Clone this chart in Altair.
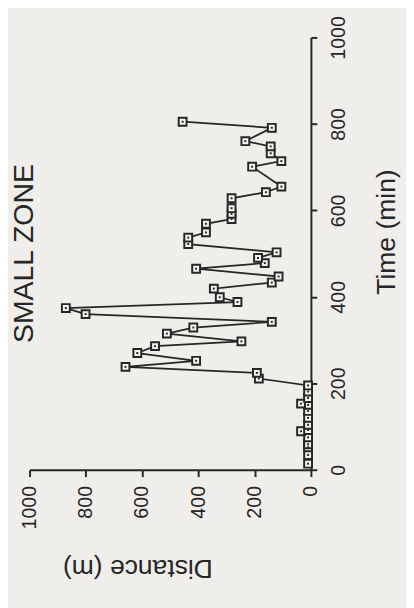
import altair as alt
import pandas as pd

# Time (min) and distance (m)
time_min = [14, 34, 52, 59, 75, 89, 92, 104, 120, 136, 150, 153, 166, 181, 195,
            211, 224, 238, 252, 270, 286, 297, 315, 329, 342, 360, 374, 388, 399,
            419, 433, 447, 465, 478, 490, 503, 522, 537, 549, 569, 580, 592, 605,
            628, 642, 655, 701, 714, 732, 748, 760, 791, 805]
distance_m = [10, 10, 10, 10, 10, 35, 10, 10, 10, 10, 10, 35, 10, 10, 10,
              185, 192, 659, 408, 617, 554, 247, 512, 418, 139, 801, 871, 261, 324,
              345, 139, 115, 408, 164, 188, 122, 436, 436, 373, 373, 282, 282, 282,
              282, 160, 105, 209, 105, 143, 143, 233, 139, 456]
tick_values = [0, 200, 400, 600, 800, 1000]

df = pd.DataFrame({"time": time_min, "distance": distance_m})

INK = "#262626"
PAPER = "#efeeea"
FONT = "Liberation Sans"

x_enc = alt.X(
    "distance:Q",
    scale=alt.Scale(domain=[0, 1000], reverse=True, nice=False),
    axis=alt.Axis(
        orient="bottom", values=tick_values, format="d", grid=False,
        labelAngle=270, labelAlign="right", labelBaseline="middle",
        labelPadding=9, tickSize=7, labelFlush=False, labelOverlap=False,
        labelFontSize=20, labelFont=FONT, labelColor=INK,
        title="Distance (m)", titleAngle=180, titleAlign="center",
        titleBaseline="alphabetic", titleX=110, titleY=92,
        titleFontSize=27, titleFont=FONT, titleFontWeight="normal", titleColor=INK,
        domainColor=INK, tickColor=INK, domainWidth=2, tickWidth=2,
    ),
)
y_enc = alt.Y(
    "time:Q",
    scale=alt.Scale(domain=[0, 1000], nice=False),
    axis=alt.Axis(
        orient="right", values=tick_values, format="d", grid=False,
        labelAngle=270, labelAlign="center", labelBaseline="top",
        labelPadding=12, tickSize=6, labelFlush=False, labelOverlap=False,
        labelFontSize=20, labelFont=FONT, labelColor=INK,
        title="Time (min)", titleAngle=270, titleAlign="center",
        titleBaseline="alphabetic", titleX=85, titleY=198,
        titleFontSize=27, titleFont=FONT, titleFontWeight="normal", titleColor=INK,
        domainColor=INK, tickColor=INK, domainWidth=2, tickWidth=2,
    ),
)

base = alt.Chart(df)
line = base.mark_line(color=INK, strokeWidth=1.8).encode(
    x=x_enc, y=y_enc, order=alt.Order("time:Q")
)
squares = base.mark_square(size=64, fill="#f6f5f1", stroke=INK, strokeWidth=2, opacity=1).encode(
    x="distance:Q", y="time:Q"
)
dots = base.mark_square(size=4, color=INK, opacity=1).encode(x="distance:Q", y="time:Q")

chart = alt.layer(line, squares, dots).properties(
    width=287,
    height=441,
    title=alt.TitleParams(
        "SMALL ZONE", orient="left", anchor="middle", frame="group",
        fontSize=29, font=FONT, fontWeight="normal", color=INK, offset=-20,
    ),
    autosize=alt.AutoSizeParams(type="none"),
    padding={"left": 22, "top": 24, "right": 97, "bottom": 135},
    background=PAPER,
).configure_view(stroke=None)

chart.save("out.html", embed_options={"renderer": "svg", "actions": False})
